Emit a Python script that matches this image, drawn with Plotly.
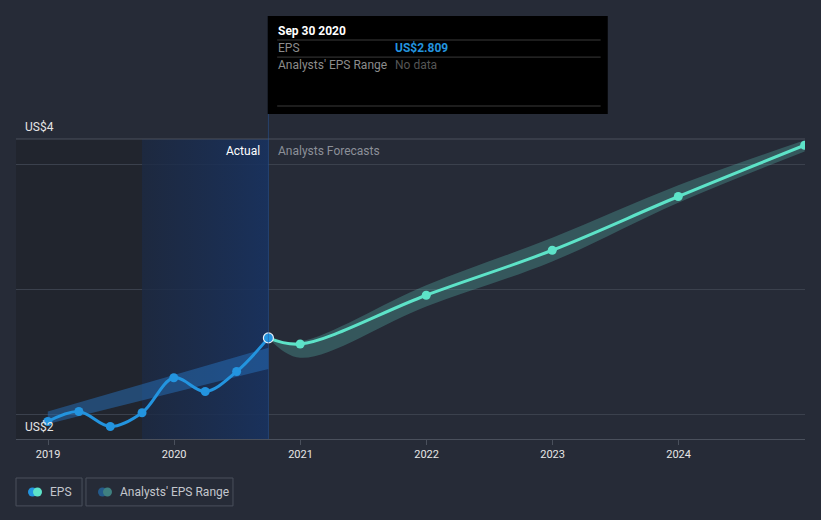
import plotly.graph_objects as go

# actual EPS, quarterly (US$)
actual_dates = ["2018-12-31", "2019-03-31", "2019-06-30", "2019-09-30",
                "2019-12-31", "2020-03-31", "2020-06-30", "2020-09-30"]
actual_eps = [2.14, 2.22, 2.10, 2.21, 2.49, 2.38, 2.54, 2.809]

# analysts' range over the actual period
past_range_dates = ["2018-12-31", "2020-09-30"]
past_range_high = [2.22, 2.73]
past_range_low = [2.12, 2.56]

# analysts' forecasts
fc_dates = ["2020-09-30", "2020-12-31", "2021-12-31", "2022-12-31", "2023-12-31", "2024-12-31"]
fc_eps = [2.809, 2.76, 3.15, 3.51, 3.94, 4.35]
fc_high = [2.809, 2.78, 3.23, 3.61, 4.03, 4.39]
fc_low = [2.809, 2.65, 3.06, 3.42, 3.89, 4.30]

years = ["2019", "2020", "2021", "2022", "2023", "2024"]
y_range = [2.0, 4.4]
y_grid = [2.2, 3.2, 4.2]

BG = "#262b37"
BLUE = "#2394df"
TEAL = "#5de3c8"
GRID = "#3b414d"
FONT = "Roboto"

fig = go.Figure()

# past / last-12-months background areas
fig.add_shape(type="rect", xref="x", yref="paper", x0="2018-09-30", x1=actual_dates[3],
              y0=0, y1=1, fillcolor="#21252e", line_width=0, layer="below")
fig.add_trace(go.Scatter(
    x=[actual_dates[3], actual_dates[-1], actual_dates[-1], actual_dates[3], actual_dates[3]],
    y=[y_range[0], y_range[0], y_range[1], y_range[1], y_range[0]],
    mode="lines", line=dict(width=0), fill="toself",
    fillgradient=dict(type="horizontal",
                      colorscale=[[0, "rgba(26,40,66,0.75)"], [1, "rgba(24,50,96,0.9)"]]),
    hoverinfo="skip", showlegend=False))

# top border line
fig.add_shape(type="line", xref="paper", yref="paper", x0=0, x1=1, y0=1, y1=1,
              line=dict(color="#4a505c", width=1))

# analysts' range, actual period
fig.add_trace(go.Scatter(x=past_range_dates, y=past_range_high, mode="lines",
                         line=dict(width=0), hoverinfo="skip", showlegend=False))
fig.add_trace(go.Scatter(x=past_range_dates, y=past_range_low, mode="lines",
                         line=dict(width=0), fill="tonexty",
                         fillcolor="rgba(40,120,200,0.45)", hoverinfo="skip", showlegend=False))

# analysts' range, forecasts
fig.add_trace(go.Scatter(x=fc_dates, y=fc_high, mode="lines", line=dict(width=0, shape="spline"),
                         hoverinfo="skip", showlegend=False))
fig.add_trace(go.Scatter(x=fc_dates, y=fc_low, mode="lines", line=dict(width=0, shape="spline"),
                         fill="tonexty", fillcolor="rgba(93,200,190,0.28)",
                         hoverinfo="skip", showlegend=False))

# forecast line
fig.add_trace(go.Scatter(x=fc_dates, y=fc_eps, mode="lines+markers",
                         line=dict(color=TEAL, width=3, shape="spline"),
                         marker=dict(size=9, color=TEAL),
                         showlegend=False))

# actual line
fig.add_trace(go.Scatter(x=actual_dates, y=actual_eps, mode="lines+markers",
                         line=dict(color=BLUE, width=3, shape="spline"),
                         marker=dict(size=9, color=BLUE),
                         showlegend=False))
# hovered point
fig.add_trace(go.Scatter(x=actual_dates[-1:], y=actual_eps[-1:], mode="markers",
                         marker=dict(size=10, color=BLUE, line=dict(color="#e8eef5", width=1.2)),
                         showlegend=False))

# hover line
fig.add_shape(type="line", xref="x", yref="paper", x0=actual_dates[-1], x1=actual_dates[-1],
              y0=0, y1=1.41, line=dict(color="rgba(40,90,160,0.5)", width=1))

fig.add_annotation(x=actual_dates[-1], y=0.96, xref="x", yref="paper", text="Actual",
                   showarrow=False, xanchor="right", yanchor="middle", xshift=-6,
                   font=dict(family=FONT, size=12, color="#ffffff"))
fig.add_annotation(x=actual_dates[-1], y=0.96, xref="x", yref="paper", text="Analysts Forecasts",
                   showarrow=False, xanchor="left", yanchor="middle", xshift=8,
                   font=dict(family=FONT, size=12, color="#8c9099"))

# y labels
fig.add_annotation(x=0, y=0, xref="paper", yref="paper", text="US$2", showarrow=False,
                   xanchor="left", yanchor="middle", xshift=7, yshift=12,
                   font=dict(family=FONT, size=12, color="#e6e6e6"))
fig.add_annotation(x=0, y=1, xref="paper", yref="paper", text="US$4", showarrow=False,
                   xanchor="left", yanchor="middle", xshift=7, yshift=12,
                   font=dict(family=FONT, size=12, color="#e6e6e6"))

# tooltip
fig.add_shape(type="rect", xref="paper", yref="paper", x0=0.319, x1=0.750, y0=1.083, y1=1.41,
              fillcolor="#000000", line_width=0)
for yy in [1.33, 1.273, 1.11]:
    fig.add_shape(type="line", xref="paper", yref="paper", x0=0.331, x1=0.741, y0=yy, y1=yy,
                  line=dict(color="#3a3a3a", width=1))
tip_rows = [
    ("<b>Sep 30 2020</b>", "#ffffff", 1.36, None, None),
    ("EPS", "#8c8c8c", 1.303, "<b>US$%.3f</b>" % actual_eps[-1], BLUE),
    ("Analysts' EPS Range", "#8c8c8c", 1.247, "No data", "#555555"),
]
for label, lcol, yy, val, vcol in tip_rows:
    fig.add_annotation(x=0.330, y=yy, xref="paper", yref="paper", text=label,
                       showarrow=False, xanchor="left", yanchor="middle",
                       font=dict(family=FONT, size=12, color=lcol))
    if val:
        fig.add_annotation(x=0.478, y=yy, xref="paper", yref="paper", text=val,
                           showarrow=False, xanchor="left", yanchor="middle",
                           font=dict(family=FONT, size=12, color=vcol))

# legend boxes
legend_items = [
    ("EPS", 0.0, 0.0837, [BLUE, TEAL]),
    ("Analysts' EPS Range", 0.0887, 0.275, ["#245a8a", "#3f8080"]),
]
for label, bx0, bx1, cols in legend_items:
    fig.add_shape(type="rect", xref="paper", yref="paper", x0=bx0, x1=bx1, y0=-0.223, y1=-0.13,
                  line=dict(color="#4a505c", width=1), fillcolor="rgba(0,0,0,0)")
    for i, c in enumerate(cols):
        fig.add_shape(type="circle", xref="paper", yref="paper", xsizemode="pixel",
                      ysizemode="pixel", xanchor=bx0, yanchor=-0.1765,
                      x0=12 + 5 * i, x1=21 + 5 * i, y0=-4.5, y1=4.5,
                      fillcolor=c, line_width=0)
    fig.add_annotation(x=bx0, y=-0.1765, xref="paper", yref="paper", text=label,
                       showarrow=False, xanchor="left", yanchor="middle", xshift=32,
                       font=dict(family=FONT, size=12, color="#c3c6cc"))

fig.update_layout(
    width=821, height=520,
    margin=dict(l=16, r=16, t=139, b=81),
    paper_bgcolor=BG, plot_bgcolor=BG,
    showlegend=False,
    hovermode=False,
    font=dict(family=FONT, size=11, color="#e6e6e6"),
)
fig.update_xaxes(
    type="date", range=["2018-09-30", "2025-01-01"],
    tickvals=[y + "-01-01" for y in years], ticktext=years,
    showgrid=False, zeroline=False,
    showline=True, linecolor="#4a505c", linewidth=1,
    ticks="outside", ticklen=5, tickcolor="#4a505c",
    tickfont=dict(family=FONT, size=11, color="#e6e6e6"),
)
fig.update_yaxes(
    range=y_range, tickvals=y_grid, showticklabels=False,
    showgrid=True, gridcolor=GRID, gridwidth=1, zeroline=False, showline=False,
)

fig.write_html("out.html", config={"displayModeBar": False},
               post_script="document.body.style.margin='0';")
